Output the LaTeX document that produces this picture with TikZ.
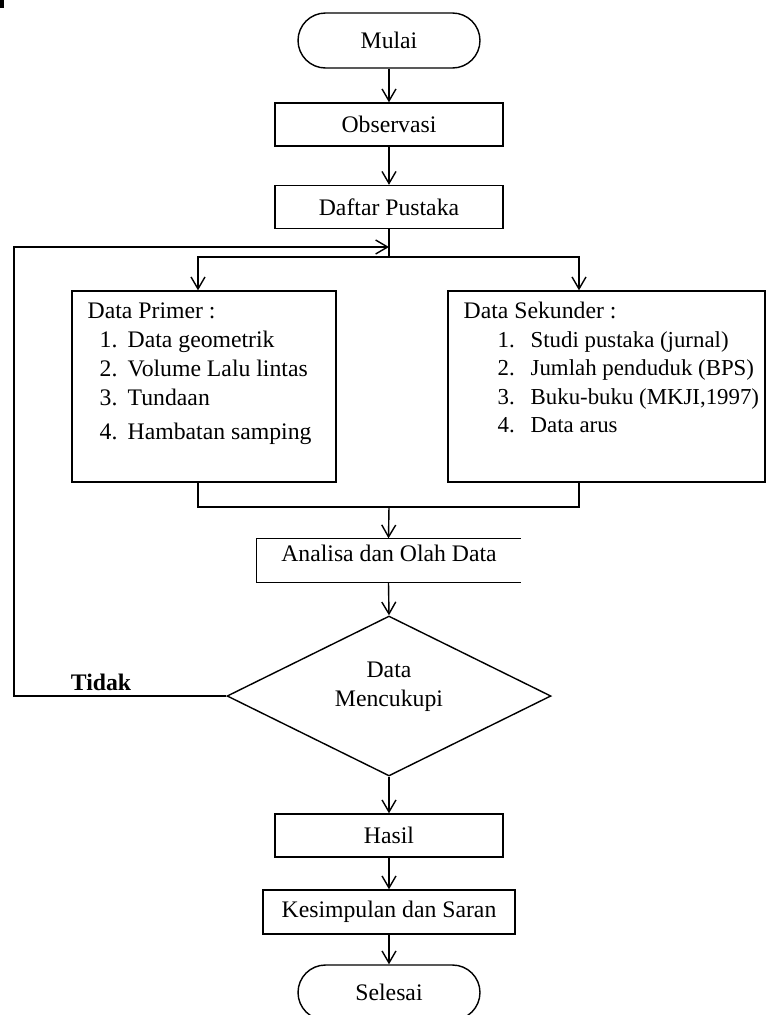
\documentclass[tikz,border=0pt]{standalone}
\usepackage{fontspec}
\setmainfont{Liberation Serif}
\usetikzlibrary{shapes.geometric,arrows.meta}
\newcommand{\butir}[3]{\makebox[#1][l]{#2}#3}

\begin{document}
\begin{tikzpicture}[x=0.02cm, y=-0.02cm, line width=0.8pt,
  font=\fontsize{13.5}{16.4}\selectfont,
  >={Straight Barb[length=2.4mm,width=2.8mm]},
  proses/.style={draw, rectangle, minimum width=4.56cm, minimum height=0.86cm, inner sep=0pt},
  terminal/.style={draw, rectangle, rounded corners=0.55cm, minimum width=3.64cm, minimum height=1.1cm, inner sep=0pt},
  kotak/.style={draw, rectangle, minimum height=3.82cm, inner sep=0pt},
  teks/.style={anchor=base west, inner sep=0pt}]
\useasboundingbox (0,0) rectangle (766,1015);
\fill (0,0) rectangle (4,8);
\node[terminal] (mulai) at (389,40.5) {Mulai};
\node[proses] (obs) at (389,124.5) {Observasi};
\node[proses] (daftar) at (389,207) {Daftar Pustaka};
\coordinate (merge) at (389,247);
\coordinate (balikAtas) at (14,247);
\coordinate (split) at (389,257);
\coordinate (splitL) at (198,257);
\coordinate (splitR) at (579,257);
\node[kotak, minimum width=5.28cm] (primer) at (204,386.5) {};
\node[kotak, minimum width=6.34cm] (sekunder) at (606.5,386.5) {};
\coordinate (join) at (389,507);
% isi data primer
\node[teks] (pHead) at (87,318) {Data Primer :};
\node[teks] (p1) at (99,347) {\butir{0.56cm}{1.}{Data geometrik}};
\node[teks] (p2) at (99,376) {\butir{0.56cm}{2.}{Volume Lalu lintas}};
\node[teks] (p3) at (99,405) {\butir{0.56cm}{3.}{Tundaan}};
\node[teks] (p4) at (99,439) {\butir{0.56cm}{4.}{Hambatan samping}};
% isi data sekunder
\node[teks] (sHead) at (463,318) {Data Sekunder :};
\node[teks, font=\fontsize{13}{16.4}\selectfont] (s1) at (497,347) {\butir{0.66cm}{1.}{Studi pustaka (jurnal)}};
\node[teks, font=\fontsize{13}{16.4}\selectfont] (s2) at (497,375) {\butir{0.66cm}{2.}{Jumlah penduduk (BPS)}};
\node[teks, font=\fontsize{13}{16.4}\selectfont] (s3) at (497,404) {\butir{0.66cm}{3.}{Buku-buku (MKJI,1997)}};
\node[teks, font=\fontsize{13}{16.4}\selectfont] (s4) at (497,432) {\butir{0.66cm}{4.}{Data arus}};
\node[minimum width=5.26cm, minimum height=0.86cm, inner sep=0pt] (analisa) at (388.5,560.5) {};
\node (analisaTeks) at (389,553) {Analisa dan Olah Data};
\node[draw, diamond, minimum width=6.48cm, minimum height=3.2cm, inner sep=0pt] (cukup) at (389,696) {};
\node[align=center] (cukupTeks) at (389,687) {Data\\Mencukupi};
\node[font=\fontsize{13.5}{16.4}\selectfont\bfseries] (tidak) at (101,682) {Tidak};
\node[proses] (hasil) at (389,835.5) {Hasil};
\node[proses, minimum width=5.04cm, minimum height=0.88cm] (kesimpulan) at (389,912) {Kesimpulan dan Saran};
\node[terminal] (selesai) at (389,992.5) {Selesai};
\draw (analisa.north east) -- (analisa.north west) -- (analisa.south west) -- (analisa.south east);
\draw [->] (mulai) -- (obs);
\draw [->] (obs) -- (daftar);
\draw (daftar) -- (split);
\draw [->] (split) -- (splitL) -- (splitL |- primer.north);
\draw [->] (split) -- (splitR) -- (splitR |- sekunder.north);
\draw (splitL |- primer.south) |- (join);
\draw (splitR |- sekunder.south) |- (join);
\draw [->] (join) -- (analisa.north);
\draw [->] (analisa.south) -- (cukup.north);
\draw [->] (cukup.west) -| (balikAtas) -- (merge);
\draw [->] (cukup.south) -- (hasil);
\draw [->] (hasil) -- (kesimpulan);
\draw [->] (kesimpulan) -- (selesai);
\end{tikzpicture}
\end{document}
